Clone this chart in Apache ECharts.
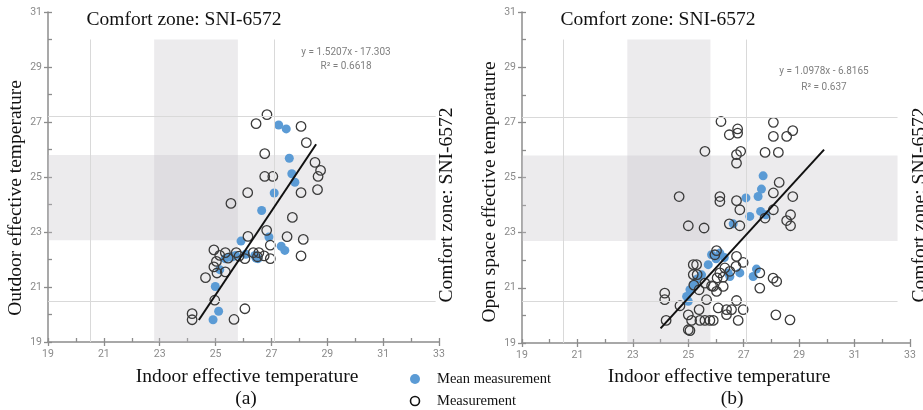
<!DOCTYPE html>
<html>
<head>
<meta charset="utf-8">
<script src="https://cdn.jsdelivr.net/npm/echarts@6/dist/echarts.min.js"></script>
<style>
  html, body { margin: 0; padding: 0; background: #fff; }
  #chart { width: 923px; height: 410px; }
</style>
</head>
<body>
<div id="chart"></div>
<script>
// Axis ranges and tick labels
var xTicks = [19, 21, 23, 25, 27, 29, 31, 33];
var yTicks = [19, 21, 23, 25, 27, 29, 31];

// SNI-6572 comfort zone bands and limit lines (effective temperature, °C)
var comfortBand = [22.8, 25.8];
var comfortBandY = [22.7, 25.8];
var limitLines = [20.5, 27.1];
var limitLinesY = [20.5, 27.2];
var bandTop = 30;

// (a) indoor vs outdoor effective temperature
var meanA = [
  [27.26, 26.89], [27.53, 26.75], [27.64, 25.68], [27.73, 25.12], [27.84, 24.81],
  [27.10, 24.42], [26.65, 23.78], [25.91, 22.67], [26.91, 22.82], [27.35, 22.48],
  [27.48, 22.33], [26.41, 22.15], [26.52, 22.03], [26.08, 22.19], [25.72, 22.15],
  [25.50, 22.09], [25.34, 22.03], [25.15, 21.63], [24.99, 21.02], [25.11, 20.12],
  [24.91, 19.81], [26.45, 22.05], [25.60, 22.10]
];
var measA = [
  [26.84, 27.27], [26.45, 26.94], [28.06, 26.84], [28.25, 26.25], [26.76, 25.85],
  [26.76, 25.02], [27.05, 25.02], [28.56, 25.53], [28.76, 25.24], [28.67, 25.02],
  [28.65, 24.54], [28.06, 24.43], [26.15, 24.43], [25.55, 24.04], [27.75, 23.53],
  [26.83, 23.06], [27.56, 22.83], [28.14, 22.73], [26.16, 22.84], [26.96, 22.52],
  [26.96, 22.03], [28.06, 22.13], [24.94, 22.35], [25.35, 22.25], [25.74, 22.25],
  [26.35, 22.25], [26.55, 22.25], [26.74, 22.13], [26.05, 22.03], [25.15, 22.15],
  [25.03, 21.93], [24.94, 21.73], [25.05, 21.51], [25.35, 21.55], [24.64, 21.34],
  [24.97, 20.52], [26.05, 20.21], [24.16, 20.03], [24.16, 19.81], [25.66, 19.82],
  [25.84, 22.12], [25.45, 22.05], [26.50, 22.10]
];
var trendA = { slope: 1.5207, intercept: -17.303, from: 24.4, to: 28.6 };

// (b) indoor vs open space effective temperature
var meanB = [
  [27.70, 25.06], [27.64, 24.58], [27.52, 24.31], [27.08, 24.26], [27.22, 23.59],
  [27.61, 23.77], [27.80, 23.65], [26.62, 23.32], [25.84, 22.20], [26.14, 22.26],
  [25.72, 21.84], [25.48, 21.47], [25.32, 21.32], [25.18, 21.11], [25.06, 20.93],
  [24.94, 20.69], [25.00, 20.51], [26.44, 21.54], [26.50, 21.41], [26.86, 21.54],
  [27.34, 21.41], [27.46, 21.68], [26.00, 22.05], [26.30, 22.10]
];
var measB = [
  [26.18, 27.03], [28.07, 27.00], [26.78, 26.76], [26.78, 26.61], [26.48, 26.55],
  [28.07, 26.49], [28.55, 26.49], [28.77, 26.70], [25.60, 25.95], [26.74, 25.83],
  [26.89, 25.95], [26.74, 25.52], [27.77, 25.91], [28.25, 25.91], [28.28, 24.82],
  [28.07, 24.44], [28.77, 24.31], [24.67, 24.31], [26.14, 24.31], [26.14, 24.13],
  [26.74, 24.16], [26.86, 23.83], [28.07, 23.83], [27.77, 23.53], [28.55, 23.44],
  [28.69, 23.65], [28.69, 23.25], [26.86, 23.25], [26.48, 23.32], [25.00, 23.25],
  [25.57, 23.17],
  [25.96, 22.20], [26.02, 22.35], [25.18, 21.84], [25.30, 21.84], [26.74, 22.14],
  [26.98, 21.92], [26.32, 21.72], [26.14, 21.54], [25.60, 21.17], [25.84, 21.07],
  [26.02, 20.87], [26.26, 21.05], [25.66, 20.57], [26.08, 20.27], [26.74, 20.54],
  [26.38, 20.21], [26.56, 20.21], [26.98, 20.21], [26.80, 19.82], [25.00, 20.02],
  [25.12, 19.82], [25.42, 19.82], [25.60, 19.82], [25.78, 19.82], [25.90, 19.82],
  [25.00, 19.48], [25.06, 19.45], [24.15, 20.81], [24.15, 20.57], [24.20, 19.82],
  [28.16, 20.02], [28.67, 19.84], [28.06, 21.35], [28.19, 21.23], [27.58, 20.99],
  [27.58, 21.54], [26.26, 21.39], [25.39, 20.21], [25.18, 21.48], [25.32, 21.48],
  [26.04, 21.36], [25.39, 20.93], [25.90, 21.05], [26.38, 20.03], [26.72, 21.78],
  [24.70, 20.35], [25.20, 21.10], [26.50, 21.60]
];
var trendB = { slope: 1.0978, intercept: -6.8165, from: 24.0, to: 29.9 };

var BLUE = '#5b9bd5';
var SERIF = '"Liberation Serif", "DejaVu Serif", serif';
var SANS = 'Roboto, "Liberation Sans", sans-serif';

function trendPoints(t) {
  return [
    [t.from, +(t.slope * t.from + t.intercept).toFixed(3)],
    [t.to, +(t.slope * t.to + t.intercept).toFixed(3)]
  ];
}

function axisPair(dim, gridIndex) {
  var isX = dim === 'x';
  var lo = isX ? xTicks[0] : yTicks[0];
  var hi = isX ? xTicks[xTicks.length - 1] : yTicks[yTicks.length - 1];
  return [
    {
      type: 'value', gridIndex: gridIndex, min: lo, max: hi, interval: 2,
      axisLine: { show: true, onZero: false, lineStyle: { color: '#8c8c8c', width: 1.5 } },
      axisTick: { show: true, inside: false, length: 4, lineStyle: { color: '#8c8c8c', width: 1.3 } },
      axisLabel: { color: '#8a8a8a', fontSize: 10.5, fontFamily: SANS, margin: isX ? 7 : 6 },
      splitLine: { show: false }
    },
    {
      type: 'value', gridIndex: gridIndex, min: lo, max: hi, interval: 1,
      position: isX ? 'bottom' : 'left',
      axisLine: { show: false, onZero: false },
      axisTick: { show: true, inside: true, length: 4, lineStyle: { color: '#8c8c8c', width: 1.3 } },
      axisLabel: { show: false },
      splitLine: { show: false }
    }
  ];
}

function bandSeries(axisIdx, xEnd) {
  var lineStyle = { color: '#d9d9d9', width: 1, type: 'solid' };
  var lines = [];
  limitLines.forEach(function (v) {
    lines.push([{ coord: [v, bandTop] }, { coord: [v, yTicks[0]] }]);
  });
  limitLinesY.forEach(function (v) {
    lines.push([{ coord: [xTicks[0], v] }, { coord: [xEnd, v] }]);
  });
  return {
    type: 'line', xAxisIndex: axisIdx, yAxisIndex: axisIdx, data: [], silent: true,
    markArea: {
      silent: true,
      itemStyle: { color: 'rgba(196,192,200,0.32)' },
      data: [
        [{ coord: [comfortBand[0], bandTop] }, { coord: [comfortBand[1], yTicks[0]] }],
        [{ coord: [xTicks[0], comfortBandY[1]] }, { coord: [xEnd, comfortBandY[0]] }]
      ]
    },
    markLine: { silent: true, symbol: 'none', label: { show: false }, lineStyle: lineStyle, data: lines }
  };
}

function scatterSeries(axisIdx, mean, meas, trend) {
  return [
    {
      type: 'scatter', name: 'Mean measurement', xAxisIndex: axisIdx, yAxisIndex: axisIdx,
      data: mean, symbol: 'circle', symbolSize: 9,
      itemStyle: { color: BLUE, opacity: 1 }, z: 3
    },
    {
      type: 'scatter', name: 'Measurement', xAxisIndex: axisIdx, yAxisIndex: axisIdx,
      data: meas, symbol: 'circle', symbolSize: 9.5,
      itemStyle: { color: 'rgba(0,0,0,0)', borderColor: '#3a3a3a', borderWidth: 1.3, opacity: 1 }, z: 4
    },
    {
      type: 'line', xAxisIndex: axisIdx, yAxisIndex: axisIdx,
      data: trendPoints(trend), symbol: 'none', silent: true,
      lineStyle: { color: '#111', width: 2 }, z: 5
    }
  ];
}

function txt(x, y, text, opts) {
  opts = opts || {};
  return {
    type: 'text', x: x, y: y, rotation: opts.rotation || 0, silent: true, z: 10,
    style: {
      text: text, x: 0, y: 0,
      fill: opts.color || '#111',
      font: (opts.weight || 'normal') + ' ' + (opts.size || 19.5) + 'px ' + (opts.family || SERIF),
      textAlign: opts.align || 'center', textVerticalAlign: 'middle'
    }
  };
}

var xA = axisPair('x', 0), xB = axisPair('x', 1);
var yA = axisPair('y', 0), yB = axisPair('y', 1);

var option = {
  animation: false,
  backgroundColor: '#fff',
  grid: [
    { left: 48, top: 12, width: 391, height: 330 },
    { left: 522, top: 12, width: 388, height: 331 }
  ],
  xAxis: [xA[0], xA[1], xB[0], xB[1]],
  yAxis: [yA[0], yA[1], yB[0], yB[1]],
  series: [].concat(
    [bandSeries(0, 32.88)],
    scatterSeries(0, meanA, measA, trendA),
    [bandSeries(2, 32.55)],
    scatterSeries(2, meanB, measB, trendB)
  ),
  graphic: [
    txt(184, 20, 'Comfort zone: SNI-6572'),
    txt(658, 20, 'Comfort zone: SNI-6572'),
    txt(346, 52, 'y = 1.5207x - 17.303', { size: 10, family: SANS, color: '#7f7f7f' }),
    txt(346, 66, 'R² = 0.6618', { size: 10, family: SANS, color: '#7f7f7f' }),
    txt(824, 71, 'y = 1.0978x - 6.8165', { size: 10, family: SANS, color: '#7f7f7f' }),
    txt(824, 87, 'R² = 0.637', { size: 10, family: SANS, color: '#7f7f7f' }),
    txt(16, 198, 'Outdoor effective temperature', { rotation: Math.PI / 2 }),
    txt(490, 192, 'Open space effective temperature', { rotation: Math.PI / 2 }),
    txt(447, 205, 'Comfort zone: SNI-6572', { rotation: Math.PI / 2 }),
    txt(920, 205, 'Comfort zone: SNI-6572', { rotation: Math.PI / 2 }),
    txt(247, 377, 'Indoor effective temperature'),
    txt(719, 377, 'Indoor effective temperature'),
    txt(246, 399, '(a)'),
    txt(732, 399, '(b)'),
    { type: 'circle', silent: true, shape: { cx: 415, cy: 379, r: 5 }, style: { fill: BLUE } },
    { type: 'circle', silent: true, shape: { cx: 415, cy: 401, r: 4.5 }, style: { fill: 'none', stroke: '#111', lineWidth: 1.6 } },
    txt(437, 379, 'Mean measurement', { size: 14.5, align: 'left' }),
    txt(437, 401, 'Measurement', { size: 14.5, align: 'left' })
  ]
};

var chart = echarts.init(document.getElementById('chart'), null, { renderer: 'canvas' });
chart.setOption(option);
</script>
</body>
</html>
